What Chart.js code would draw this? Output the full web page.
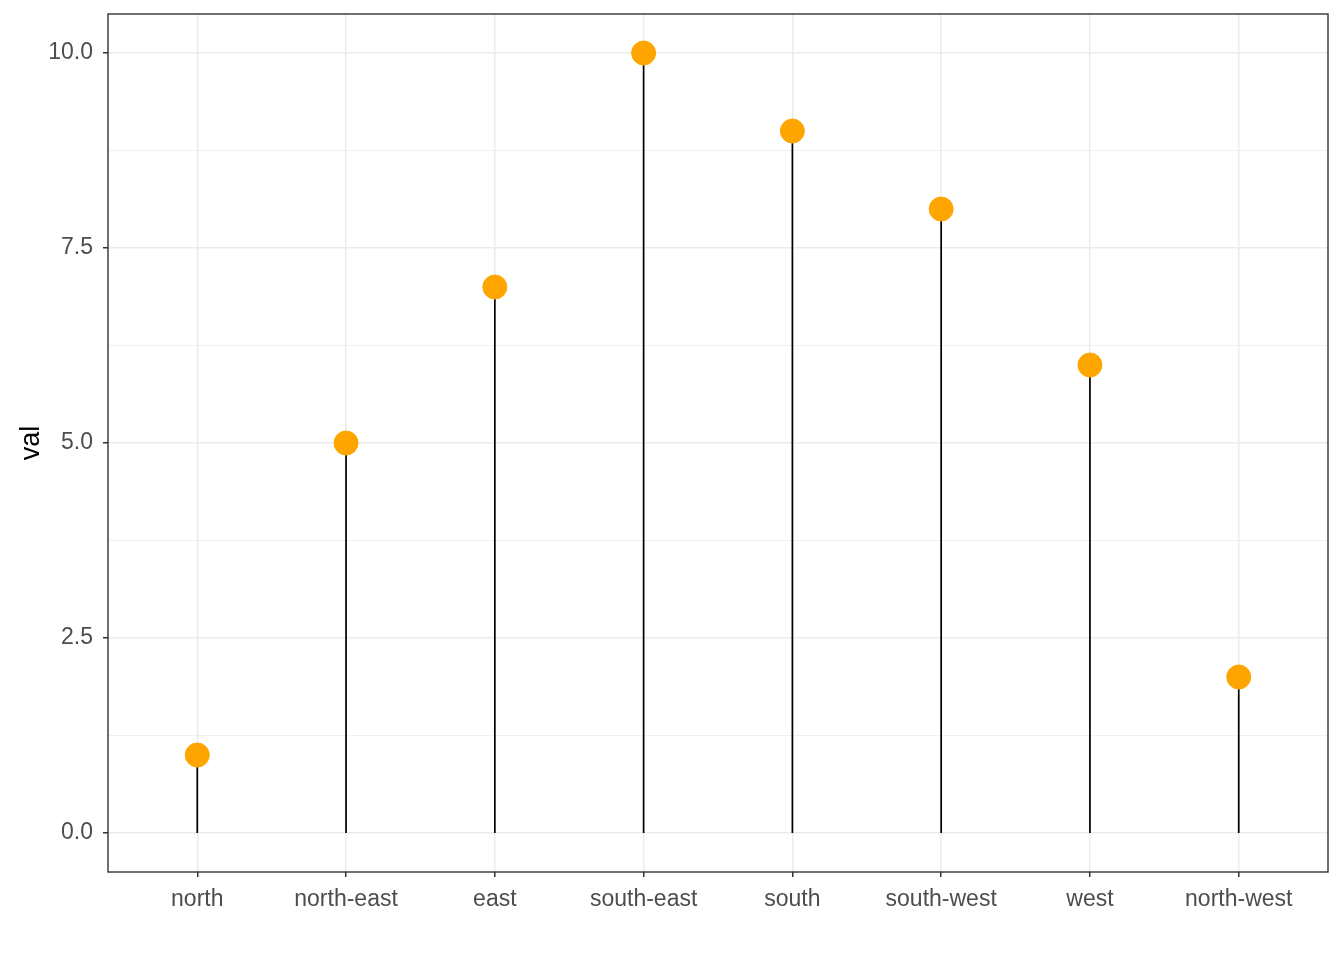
<!DOCTYPE html>
<html><head><meta charset="utf-8">
<script src="https://cdn.jsdelivr.net/npm/chart.js@4"></script>
<style>html,body{margin:0;padding:0;background:#fff}#wrap{width:1344px;height:960px}</style>
</head><body><div id="wrap"><canvas id="c" width="1344" height="960"></canvas></div>
<script>
const categories = ["north","north-east","east","south-east","south","south-west","west","north-west"];
const values = [1,5,7,10,9,8,6,2];
const yMajorTicks = [0,2.5,5,7.5,10];
const yMinorTicks = [1.25,3.75,6.25,8.75];

const stems = [];
categories.forEach((c,i)=>{ stems.push({x:i+1,y:0},{x:i+1,y:values[i]},{x:i+1,y:null}); });
const pts = values.map((v,i)=>({x:i+1,y:v}));

const panelBorder = {
  id:'panelBorder',
  afterDraw(chart){
    const a=chart.chartArea, ctx=chart.ctx;
    ctx.save(); ctx.strokeStyle='#333333'; ctx.lineWidth=1.4;
    ctx.strokeRect(a.left,a.top,a.right-a.left,a.bottom-a.top); ctx.restore();
  }
};
const isMajor = v => yMajorTicks.includes(v);

new Chart(document.getElementById('c'),{
  type:'scatter',
  data:{datasets:[
    {type:'line',data:stems,borderColor:'#000',borderWidth:1.7,pointRadius:0,spanGaps:false,order:2},
    {type:'scatter',data:pts,backgroundColor:'#FFA500',borderColor:'#FFA500',pointRadius:12,pointHoverRadius:12,order:1}
  ]},
  options:{
    responsive:false,animation:false,
    layout:{padding:{top:14,right:16,bottom:0,left:0}},
    plugins:{legend:{display:false},tooltip:{enabled:false}},
    scales:{
      x:{type:'linear',min:0.4,max:8.6,
        afterBuildTicks:s=>{s.ticks=categories.map((c,i)=>({value:i+1}));},
        afterFit:s=>{s.height=88;s.paddingLeft=0;s.paddingRight=0;},
        ticks:{callback:v=>categories[v-1],color:'#4d4d4d',font:{family:'Liberation Sans',size:23},padding:9,maxRotation:0,autoSkip:false},
        grid:{color:'#ebebeb',lineWidth:1.5,tickColor:'#333333',tickLength:5,drawTicks:true},
        border:{display:false}
      },
      y:{type:'linear',min:-0.5,max:10.5,
        afterBuildTicks:s=>{s.ticks=[...yMajorTicks,...yMinorTicks].sort((a,b)=>a-b).map(v=>({value:v}));},
        afterFit:s=>{s.width=108;s.paddingTop=0;s.paddingBottom=0;},
        ticks:{callback:v=>isMajor(v)?v.toFixed(1):'',color:'#4d4d4d',font:{family:'Liberation Sans',size:23},padding:10,autoSkip:false},
        grid:{color:'#ebebeb',lineWidth:c=>isMajor(c.tick&&c.tick.value)?1.5:0.75,
          tickColor:c=>isMajor(c.tick&&c.tick.value)?'#333333':'rgba(0,0,0,0)',tickLength:5,drawTicks:true},
        border:{display:false},
        title:{display:true,text:'val',color:'#000',font:{family:'Liberation Sans',size:27},padding:{top:15,bottom:0}}
      }
    }
  },
  plugins:[panelBorder]
});
</script></body></html>
